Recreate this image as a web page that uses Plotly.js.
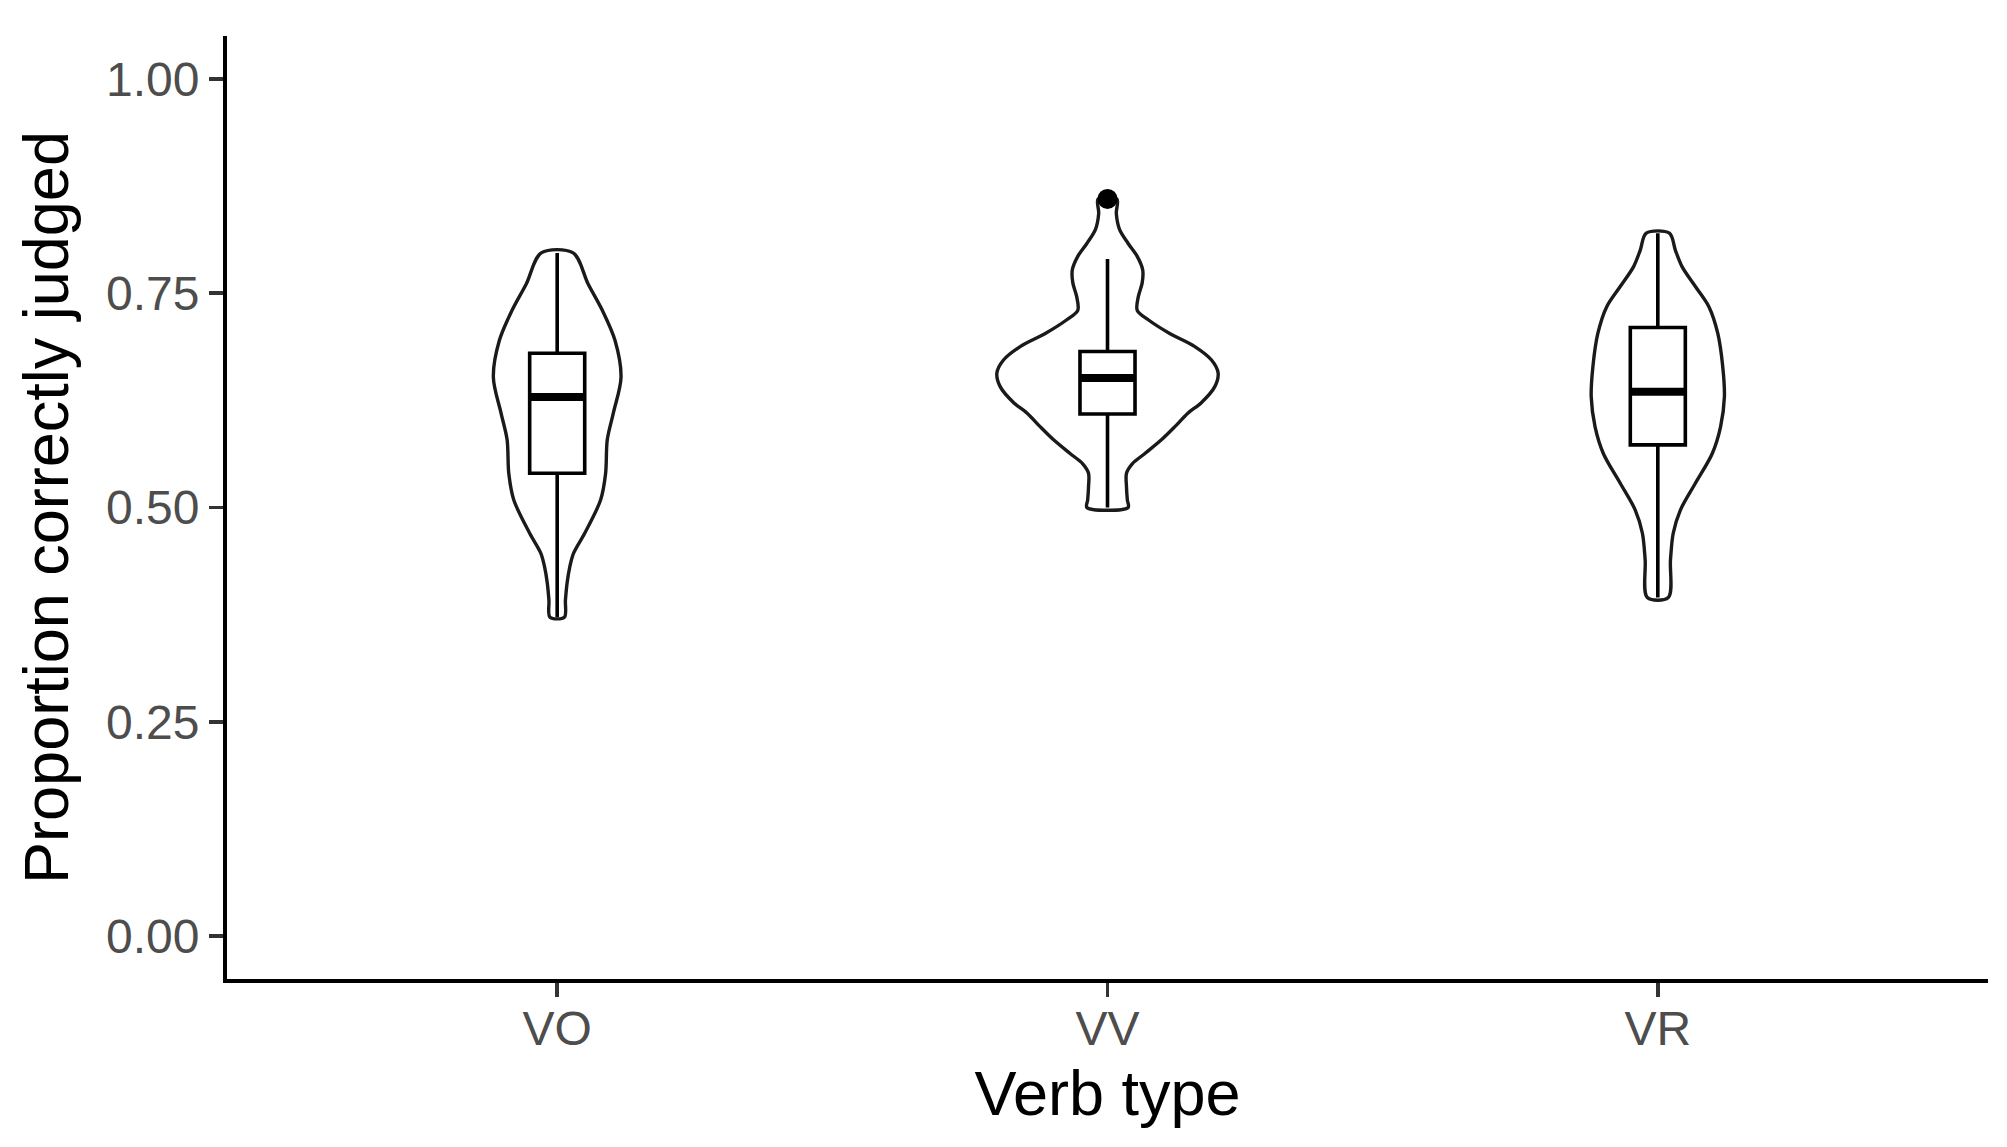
<!DOCTYPE html>
<html>
<head>
<meta charset="utf-8">
<script src="https://cdn.plot.ly/plotly-3.0.1.min.js"></script>
<style>
  html, body { margin: 0; padding: 0; background: #fff; }
  #chart { width: 2007px; height: 1147px; }
</style>
</head>
<body>
<div id="chart"></div>
<script>
// verb types on the x axis, at positions 1..3
const verbTypes = ["VO", "VV", "VR"];
const positions = [1, 2, 3];

// violin outlines: y level and half-width (x units)
const voY = [0.797, 0.761, 0.730, 0.695, 0.652, 0.610, 0.579, 0.540, 0.509, 0.470, 0.447, 0.431, 0.412, 0.392, 0.372];
const voW = [0.029, 0.056, 0.082, 0.105, 0.116, 0.102, 0.091, 0.088, 0.079, 0.050, 0.030, 0.023, 0.018, 0.015, 0.013];

const vvY = [0.860, 0.843, 0.824, 0.808, 0.793, 0.777, 0.762, 0.746, 0.730, 0.719, 0.703, 0.688, 0.672, 0.657, 0.641, 0.622, 0.610, 0.594, 0.579, 0.563, 0.551, 0.540, 0.524, 0.509, 0.500];
const vvW = [0.017, 0.016, 0.022, 0.0375, 0.054, 0.064, 0.063, 0.056, 0.054, 0.074, 0.113, 0.158, 0.189, 0.201, 0.195, 0.170, 0.146, 0.122, 0.098, 0.068, 0.045, 0.0345, 0.0345, 0.036, 0.0375];

const vrY = [0.820, 0.800, 0.781, 0.758, 0.734, 0.703, 0.664, 0.629, 0.594, 0.563, 0.528, 0.497, 0.470, 0.439, 0.395];
const vrW = [0.021, 0.032, 0.044, 0.068, 0.093, 0.109, 0.118, 0.121, 0.114, 0.099, 0.068, 0.041, 0.028, 0.023, 0.019];

// box plot summary per verb type
const q1 = [0.540, 0.609, 0.573];
const medians = [0.629, 0.651, 0.635];
const q3 = [0.680, 0.682, 0.710];
const lowerFence = [0.372, 0.500, 0.395];
const upperFence = [0.797, 0.790, 0.820];

// outliers
const outlierX = [2];
const outlierY = [0.860];

const yTicks = [0, 0.25, 0.5, 0.75, 1];

const boxWidth = 0.1;
const fontFamily = '"Liberation Sans", Arial, Helvetica, sans-serif';

function violinTrace(center, ys, ws) {
  const left = ys.map((y, i) => center - ws[i]);
  const right = ys.map((y, i) => center + ws[i]).reverse();
  const yRight = ys.slice().reverse();
  return {
    type: "scatter",
    mode: "lines",
    x: [...left, ...right, left[0]],
    y: [...ys, ...yRight, ys[0]],
    line: { color: "#1a1a1a", width: 3.4, shape: "spline", smoothing: 0.9 },
    hoverinfo: "skip",
    showlegend: false,
  };
}

const traces = [
  violinTrace(positions[0], voY, voW),
  violinTrace(positions[1], vvY, vvW),
  violinTrace(positions[2], vrY, vrW),
  {
    type: "box",
    x: positions,
    q1: q1,
    median: medians,
    q3: q3,
    lowerfence: lowerFence,
    upperfence: upperFence,
    width: boxWidth,
    whiskerwidth: 0,
    boxpoints: false,
    fillcolor: "#ffffff",
    line: { color: "#000000", width: 3.6 },
    showlegend: false,
  },
  {
    // thick median bars like ggplot's fatten
    type: "scatter",
    mode: "lines",
    x: positions.flatMap((p) => [p - boxWidth / 2, p + boxWidth / 2, null]),
    y: medians.flatMap((m) => [m, m, null]),
    line: { color: "#000000", width: 8 },
    hoverinfo: "skip",
    showlegend: false,
  },
  {
    type: "scatter",
    mode: "markers",
    x: outlierX,
    y: outlierY,
    marker: { color: "#000000", size: 20 },
    showlegend: false,
  },
];

const axisCommon = {
  showline: true,
  linecolor: "#000000",
  linewidth: 4,
  ticks: "outside",
  ticklen: 14,
  tickwidth: 3.5,
  tickcolor: "#333333",
  tickfont: { family: fontFamily, size: 48, color: "#4D4D4D" },
  showgrid: false,
  zeroline: false,
  fixedrange: true,
};

const layout = {
  width: 2007,
  height: 1147,
  margin: { l: 227, r: 19, t: 36, b: 168 },
  paper_bgcolor: "#ffffff",
  plot_bgcolor: "#ffffff",
  showlegend: false,
  font: { family: fontFamily },
  xaxis: {
    ...axisCommon,
    range: [0.4, 3.6],
    tickvals: positions,
    ticktext: verbTypes,
    ticklabelstandoff: -10,
    title: { text: "Verb type", font: { family: fontFamily, size: 63, color: "#000000" }, standoff: 18 },
  },
  yaxis: {
    ...axisCommon,
    range: [-0.05, 1.05],
    tickvals: yTicks,
    tickformat: ".2f",
    title: { text: "Proportion correctly judged", font: { family: fontFamily, size: 63, color: "#000000" }, standoff: 18 },
  },
};

Plotly.newPlot("chart", traces, layout, { displayModeBar: false, staticPlot: true });
</script>
</body>
</html>
